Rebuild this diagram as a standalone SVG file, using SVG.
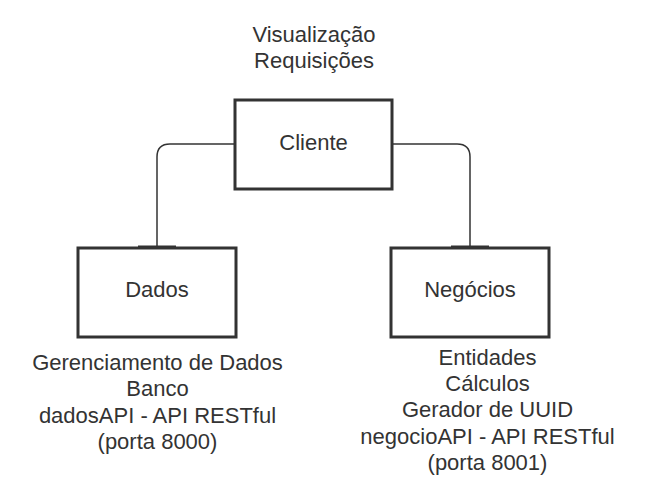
<svg xmlns="http://www.w3.org/2000/svg" width="660" height="495" viewBox="0 0 660 495">
<style>
.box{fill:#fff;stroke:#333;stroke-width:3}
.t{font-family:"Liberation Sans",Arial,sans-serif;font-size:22px;fill:#333;text-anchor:middle}
.c{fill:none;stroke:#333;stroke-width:1.5}
.bar{stroke:#333;stroke-width:3}
</style>
<rect width="660" height="495" fill="#fff"/>
<g id="connectors">
<path class="c" d="M235,144 H170 Q157,144 157,157 V248"/>
<line class="bar" x1="138" y1="247" x2="176" y2="247"/>
<path class="c" d="M392,144 H457 Q470,144 470,157 V248"/>
<line class="bar" x1="451" y1="247" x2="489" y2="247"/>
</g>
<g id="top-label">
<text class="t" x="314" y="42">Visualização</text>
<text class="t" x="314" y="68">Requisições</text>
</g>
<g id="cliente">
<rect class="box" x="235" y="100" width="157" height="89"/>
<text class="t" x="313.5" y="150">Cliente</text>
</g>
<g id="dados">
<rect class="box" x="78" y="248" width="158" height="89"/>
<text class="t" x="157" y="297">Dados</text>
</g>
<g id="negocios">
<rect class="box" x="391" y="248" width="158" height="89"/>
<text class="t" x="470" y="297">Negócios</text>
</g>
<g id="dados-label">
<text class="t" x="157.5" y="370">Gerenciamento de Dados</text>
<text class="t" x="157.5" y="396">Banco</text>
<text class="t" x="157.5" y="423">dadosAPI - API RESTful</text>
<text class="t" x="157.5" y="449">(porta 8000)</text>
</g>
<g id="negocios-label">
<text class="t" x="487.5" y="365">Entidades</text>
<text class="t" x="487.5" y="391">Cálculos</text>
<text class="t" x="487.5" y="417">Gerador de UUID</text>
<text class="t" x="487.5" y="444">negocioAPI - API RESTful</text>
<text class="t" x="487.5" y="470">(porta 8001)</text>
</g>
</svg>
